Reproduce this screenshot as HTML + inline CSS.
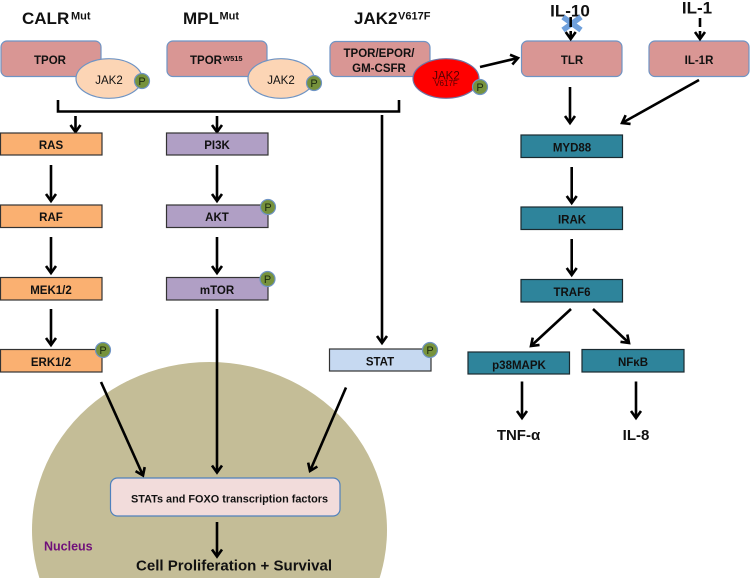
<!DOCTYPE html>
<html><head><meta charset="utf-8"><style>
html,body{margin:0;padding:0;background:#fff;width:750px;height:578px;overflow:hidden}
svg{display:block}
text{font-family:"Liberation Sans",sans-serif;fill:#111}
.b{font-weight:bold}
.l{font-size:10.5px;font-weight:bold;text-anchor:middle}
.m{font-size:11.5px;font-weight:bold;text-anchor:middle}
.t{font-size:17px;font-weight:bold}
.s{font-size:11px;font-weight:bold}
.p{font-size:11px;text-anchor:middle;fill:#1c2a10}
.a{stroke:#000;stroke-width:2.6;fill:none;marker-end:url(#h)}
.rr{fill:#d99694;stroke:#6f94c4;stroke-width:1.2}
.or{fill:#fab071;stroke:#333;stroke-width:1.2}
.pu{fill:#b09fc5;stroke:#333;stroke-width:1.2}
.te{fill:#2e849b;stroke:#1a2a30;stroke-width:1.2}
.c{fill:#76923c;stroke:#6f94c4;stroke-width:1.2}
.e{fill:#fcd5b5;stroke:#6f94c4;stroke-width:1.2}
</style></head><body>
<svg width="750" height="578" viewBox="0 0 750 578" xmlns="http://www.w3.org/2000/svg">
<defs><marker id="h" markerUnits="userSpaceOnUse" markerWidth="16" markerHeight="16" refX="10.5" refY="8" orient="auto"><path d="M3.5 3L10.5 8L3.5 13" fill="none" stroke="#000" stroke-width="2.6"/></marker></defs>

<path d="M39.4 578A177.5 168 0 1 1 379.6 578Z" fill="#c4bd97"/>

<!-- titles -->
<text x="22" y="24" class="t">CALR</text><text x="71" y="19.5" class="s">Mut</text>
<text x="183" y="24" class="t">MPL</text><text x="219.5" y="19.5" class="s">Mut</text>
<text x="354" y="24" class="t">JAK2</text><text x="398" y="19.5" class="s">V617F</text>
<text x="570" y="16.5" class="t" text-anchor="middle">IL-10</text>
<text x="697" y="13.5" class="t" text-anchor="middle">IL-1</text>

<!-- receptors -->
<rect x="1" y="41" width="100" height="35.5" rx="6" class="rr"/>
<text x="50" y="64" class="m">TPOR</text>
<ellipse cx="109" cy="78.5" rx="33" ry="19.8" class="e"/>
<text x="109" y="84" font-size="11.5" text-anchor="middle">JAK2</text>
<circle cx="142" cy="81" r="7.5" class="c"/><text x="142" y="85" class="p">P</text>

<rect x="167" y="41" width="100" height="35.5" rx="6" class="rr"/>
<text x="190" y="64" font-size="11.5" class="b">TPOR</text><text x="223" y="61" font-size="7.5" class="b">W515</text>
<ellipse cx="281" cy="78.5" rx="33" ry="19.8" class="e"/>
<text x="281" y="84" font-size="11.5" text-anchor="middle">JAK2</text>
<circle cx="314" cy="83" r="7.5" class="c"/><text x="314" y="87" class="p">P</text>

<rect x="330" y="41.5" width="100" height="35" rx="6" class="rr"/>
<text x="379" y="57" class="m">TPOR/EPOR/</text>
<text x="379" y="72" class="m">GM-CSFR</text>
<ellipse cx="446" cy="78.5" rx="33" ry="19.8" fill="#f00" stroke="#6f74a4" stroke-width="1.2"/>
<text x="446" y="79.5" font-size="11.5" text-anchor="middle" style="fill:#500">JAK2</text>
<text x="446" y="86" font-size="8" text-anchor="middle" style="fill:#500">V617F</text>
<circle cx="480" cy="87" r="7.5" class="c"/><text x="480" y="91" class="p">P</text>

<rect x="521.5" y="41" width="100.5" height="35.5" rx="6" class="rr"/>
<text x="572" y="64" class="m">TLR</text>
<rect x="649" y="41" width="100" height="35.5" rx="6" class="rr"/>
<text x="699" y="64" class="m">IL-1R</text>

<!-- bracket -->
<path d="M58 100V111.5H399V100" fill="none" stroke="#000" stroke-width="2.6"/>
<line x1="75.5" y1="116" x2="75.5" y2="132" class="a"/>
<line x1="217" y1="116" x2="217" y2="132" class="a"/>
<line x1="382" y1="115" x2="382" y2="343" class="a"/>

<!-- left column -->
<rect x="0.5" y="133" width="101.5" height="22" class="or"/><text x="51" y="149" class="m">RAS</text>
<rect x="0.5" y="205" width="101.5" height="22.5" class="or"/><text x="51" y="221" class="m">RAF</text>
<rect x="0.5" y="277.5" width="101.5" height="22.5" class="or"/><text x="51" y="294" class="m">MEK1/2</text>
<rect x="0.5" y="349.5" width="101.5" height="22.5" class="or"/><text x="51" y="366" class="m">ERK1/2</text>
<line x1="51" y1="165" x2="51" y2="201" class="a"/>
<line x1="51" y1="237" x2="51" y2="273" class="a"/>
<line x1="51" y1="309" x2="51" y2="345" class="a"/>
<circle cx="103" cy="350" r="7.5" class="c"/><text x="103" y="354" class="p">P</text>

<!-- middle column -->
<rect x="166.5" y="133" width="101.5" height="22" class="pu"/><text x="217" y="149" class="m">PI3K</text>
<rect x="166.5" y="205" width="101.5" height="22.5" class="pu"/><text x="217" y="221" class="m">AKT</text>
<rect x="166.5" y="277.5" width="101.5" height="22.5" class="pu"/><text x="217" y="294" class="m">mTOR</text>
<line x1="217" y1="165" x2="217" y2="201" class="a"/>
<line x1="217" y1="237" x2="217" y2="273" class="a"/>
<line x1="217" y1="309" x2="217" y2="472.5" class="a"/>
<circle cx="268" cy="207" r="7.5" class="c"/><text x="268" y="211" class="p">P</text>
<circle cx="267.5" cy="279" r="7.5" class="c"/><text x="267.5" y="283" class="p">P</text>

<!-- STAT -->
<rect x="329.5" y="349" width="101.5" height="22" fill="#c6d9f1" stroke="#333" stroke-width="1.2"/>
<text x="380" y="365.5" class="m">STAT</text>
<circle cx="430" cy="350" r="7.5" class="c"/><text x="430" y="354" class="p">P</text>

<!-- nucleus content -->
<line x1="101" y1="382" x2="143" y2="475.5" class="a"/>
<line x1="346" y1="387.5" x2="310" y2="471" class="a"/>
<rect x="110.5" y="478" width="229.5" height="38" rx="7" fill="#f2dcdb" stroke="#4f81bd" stroke-width="1.2"/>
<text x="131" y="502.5" font-size="11" class="b" textLength="197" lengthAdjust="spacingAndGlyphs">STATs and FOXO transcription factors</text>
<line x1="217" y1="522" x2="217" y2="556.5" class="a"/>
<text x="136" y="570.5" font-size="14.5" class="b" textLength="196" lengthAdjust="spacingAndGlyphs">Cell Proliferation + Survival</text>
<text x="44" y="550.5" font-size="12.5" class="b" style="fill:#70107a">Nucleus</text>

<!-- right side -->
<line x1="480" y1="67" x2="518" y2="58" class="a"/>
<line x1="570" y1="87" x2="570" y2="123" class="a"/>
<line x1="699" y1="80" x2="622" y2="123" class="a"/>
<path d="M563 17L581 30M581 17L563 30" stroke="#6fa0dc" stroke-width="5.5" fill="none"/>
<line x1="570.7" y1="17" x2="570.7" y2="27" stroke="#000" stroke-width="2.6"/>
<line x1="570.7" y1="31" x2="570.7" y2="39" class="a"/>
<line x1="700" y1="18" x2="700" y2="27" stroke="#000" stroke-width="2.6"/>
<line x1="700" y1="31" x2="700" y2="39" class="a"/>

<rect x="521" y="135" width="101.5" height="22.5" class="te"/><text x="572" y="151.5" class="m">MYD88</text>
<rect x="521" y="207" width="101.5" height="22.5" class="te"/><text x="572" y="223.5" class="m">IRAK</text>
<rect x="521" y="279.5" width="101.5" height="22.5" class="te"/><text x="572" y="296" class="m">TRAF6</text>
<rect x="468" y="352" width="101.5" height="22" class="te"/><text x="519" y="369" class="m">p38MAPK</text>
<rect x="582" y="349.5" width="102" height="22.5" class="te"/><text x="633" y="366" class="m">NFκB</text>
<line x1="571.7" y1="167" x2="571.7" y2="203" class="a"/>
<line x1="571.7" y1="239" x2="571.7" y2="275" class="a"/>
<line x1="571" y1="309" x2="531" y2="346" class="a"/>
<line x1="593" y1="309" x2="629" y2="343" class="a"/>
<line x1="522" y1="381.5" x2="522" y2="418" class="a"/>
<line x1="636" y1="381.5" x2="636" y2="418" class="a"/>
<text x="518.5" y="440" font-size="15" class="b" text-anchor="middle">TNF-α</text>
<text x="636" y="440" font-size="15" class="b" text-anchor="middle">IL-8</text>
</svg>
</body></html>
